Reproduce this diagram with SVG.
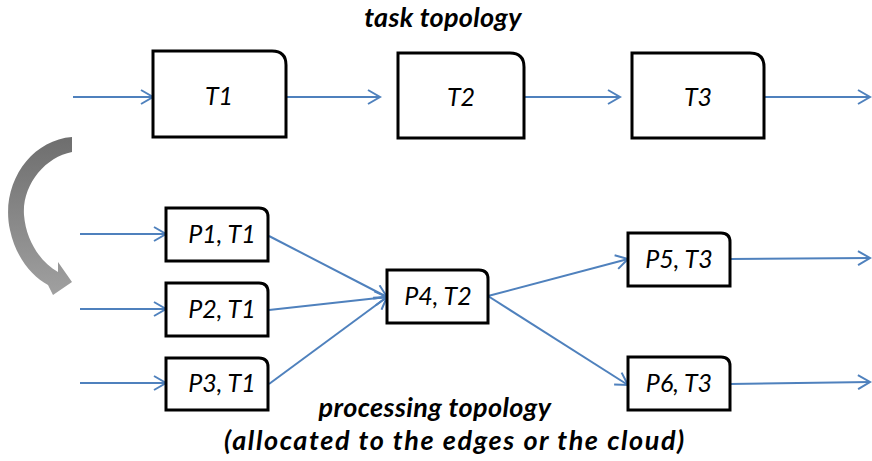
<svg xmlns="http://www.w3.org/2000/svg" width="872" height="461" viewBox="0 0 872 461">
<defs>
<marker id="ah" markerWidth="16" markerHeight="16" viewBox="-14 -8 16 16" refX="0" refY="0" orient="auto" markerUnits="userSpaceOnUse">
<path d="M-12,-7 L0,0 L-12,7" fill="none" stroke="#4f81bd" stroke-width="2"/>
</marker>
<linearGradient id="g" x1="0" y1="0" x2="0" y2="1">
<stop offset="0" stop-color="#6e6e6e"/>
<stop offset="1" stop-color="#a0a0a0"/>
</linearGradient>
<style>
.box{fill:#fff;stroke:#000;stroke-width:3;}
.lbl{font-family:Lato,"Open Sans",sans-serif;font-style:italic;font-size:25px;fill:#000;text-anchor:middle;}
.ttl{font-family:Lato,"Open Sans",sans-serif;font-style:italic;font-weight:bold;font-size:27px;fill:#000;text-anchor:middle;}
.c{fill:none;stroke:#4f81bd;stroke-width:2;marker-end:url(#ah);}
</style>
</defs>
<text class="ttl" x="443" y="27" style="letter-spacing:0.3px">task topology</text>
<text class="ttl" x="435" y="417" style="letter-spacing:0.4px">processing topology</text>
<text class="ttl" x="455" y="450" style="letter-spacing:1.6px">(allocated to the edges or the cloud)</text>
<path d="M72,137 C30,140 0,185 10,230 C16,258 32,276 48,285 L53,295 L72,282 L58,262 L58,272 C40,262 26,240 24,215 C22,185 45,157 72,152 Z" fill="url(#g)"/>
<g id="connectors">
<path class="c" d="M73,97 L153,97"/>
<path class="c" d="M286,97 L380,97"/>
<path class="c" d="M524,97 L620,97"/>
<path class="c" d="M764,97 L870,97"/>
<path class="c" d="M80,234 L166,234"/>
<path class="c" d="M80,309 L166,309"/>
<path class="c" d="M80,383 L166,383"/>
<path class="c" d="M269,236 L387,297"/>
<path class="c" d="M269,310 L387,297"/>
<path class="c" d="M269,384 L387,297"/>
<path class="c" d="M488,296 L628,259"/>
<path class="c" d="M488,296 L628,385"/>
<path class="c" d="M730,259 L870,258"/>
<path class="c" d="M730,384 L870,382"/>
</g>
<g id="T1"><path class="box" d="M153,51 H272 Q286,51 286,65 V137 H153 Z"/><text class="lbl" x="219" y="105">T1</text></g>
<g id="T2"><path class="box" d="M398,53 H510 Q524,53 524,67 V138 H398 Z"/><text class="lbl" x="461" y="106">T2</text></g>
<g id="T3"><path class="box" d="M632,53 H750 Q764,53 764,67 V138 H632 Z"/><text class="lbl" x="698" y="106">T3</text></g>
<g id="P1"><path class="box" d="M166,208 H259 Q268,208 268,217 V261 H166 Z"/><text class="lbl" x="222" y="243">P1, T1</text></g>
<g id="P2"><path class="box" d="M166,283 H259 Q268,283 268,292 V336 H166 Z"/><text class="lbl" x="222" y="318">P2, T1</text></g>
<g id="P3"><path class="box" d="M166,358 H259 Q268,358 268,367 V410 H166 Z"/><text class="lbl" x="222" y="392">P3, T1</text></g>
<g id="P4"><path class="box" d="M387,270 H479 Q488,270 488,279 V323 H387 Z"/><text class="lbl" x="438" y="305">P4, T2</text></g>
<g id="P5"><path class="box" d="M628,233 H721 Q730,233 730,242 V286 H628 Z"/><text class="lbl" x="679" y="268">P5, T3</text></g>
<g id="P6"><path class="box" d="M628,357 H721 Q730,357 730,366 V410 H628 Z"/><text class="lbl" x="679" y="392">P6, T3</text></g>
</svg>
